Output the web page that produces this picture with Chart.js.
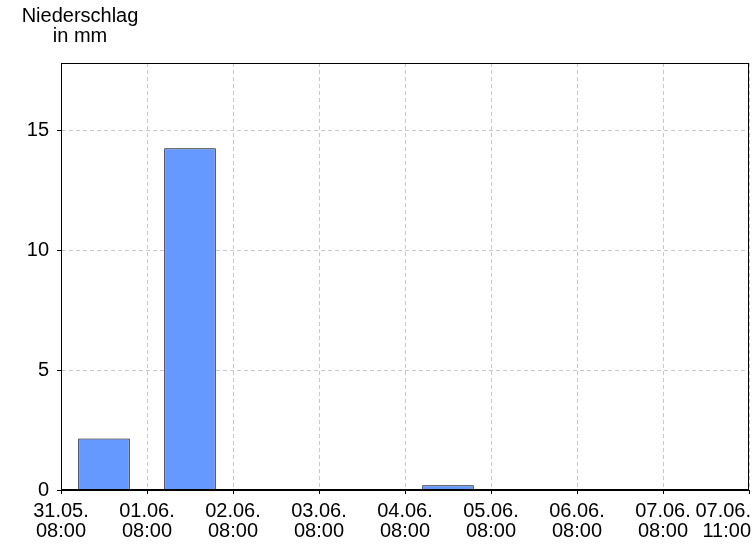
<!DOCTYPE html>
<html>
<head>
<meta charset="utf-8">
<script src="https://cdn.jsdelivr.net/npm/chart.js@4"></script>
<style>
  html, body { margin: 0; padding: 0; background: #fff; }
  #wrap { position: relative; width: 756px; height: 546px; }
  #title { position: absolute; left: 0; top: 5px; width: 160px; text-align: center;
           font: 20px "Liberation Sans", Arial, sans-serif; line-height: 20px; color: #000; }
</style>
</head>
<body>
<div id="wrap">
  <canvas id="c" width="756" height="546"></canvas>
  <div id="title">Niederschlag<br>in mm</div>
</div>
<script>
// Daily precipitation periods (each from 08:00 to 08:00 next day)
const days = ['31.05.', '01.06.', '02.06.', '03.06.', '04.06.', '05.06.', '06.06.', '07.06.'];
const precip = [2.15, 14.25, 0, 0, 0.2, 0, 0, 0];
// X axis tick labels (at period boundaries)
const tickLabels = [
  ['31.05.', '08:00'], ['01.06.', '08:00'], ['02.06.', '08:00'], ['03.06.', '08:00'],
  ['04.06.', '08:00'], ['05.06.', '08:00'], ['06.06.', '08:00'], ['07.06.', '08:00'],
  ['07.06.', '11:00']
];
const yTicks = [0, 5, 10, 15];
const yMax = 17.8;

const FONT = { family: '"Liberation Sans", Arial, sans-serif', size: 20, lineHeight: 1 };
const TICK_LEN = 4, X_PAD = 7, Y_PAD = 8;

const framePlugin = {
  id: 'frame',
  afterDraw(chart) {
    const { ctx, chartArea: a } = chart;
    ctx.save();
    ctx.strokeStyle = '#000';
    ctx.lineWidth = 1;
    ctx.strokeRect(Math.round(a.left) + 0.5, Math.round(a.top) + 0.5,
                   Math.round(a.right - a.left) - 1, Math.round(a.bottom - a.top) - 1);
    // last x label, right-aligned to the last tick
    const xs = chart.scales.x;
    const last = tickLabels[tickLabels.length - 1];
    const px = xs.getPixelForValue(tickLabels.length - 1);
    ctx.fillStyle = '#000';
    ctx.font = FONT.size + 'px ' + FONT.family;
    ctx.textAlign = 'right';
    ctx.textBaseline = 'middle';
    last.forEach((line, i) => {
      ctx.fillText(line, px + 2, xs.top + TICK_LEN + X_PAD + FONT.size / 2 + i * FONT.size);
    });
    ctx.restore();
  }
};

new Chart(document.getElementById('c'), {
  type: 'bar',
  data: {
    datasets: [{
      label: 'Niederschlag',
      data: days.map((d, i) => ({ x: i + 0.5, y: precip[i] })),
      backgroundColor: '#6699ff',
      borderColor: '#000',
      borderWidth: 1,
      borderSkipped: 'start',
      barPercentage: 0.6,
      categoryPercentage: 1.0
    }]
  },
  options: {
    responsive: false,
    animation: false,
    layout: { padding: { top: 63, right: 5, left: 0, bottom: 0 } },
    plugins: { legend: { display: false }, tooltip: { enabled: false }, title: { display: false } },
    scales: {
      x: {
        type: 'linear',
        min: 0,
        max: tickLabels.length - 1,
        offset: false,
        afterBuildTicks(s) { s.ticks = tickLabels.map((_, i) => ({ value: i })); },
        afterFit(s) { s.height = 56; },
        ticks: {
          autoSkip: false, maxRotation: 0, minRotation: 0,
          padding: X_PAD, color: '#000', font: FONT,
          callback: (v, i) => (i === tickLabels.length - 1 ? '' : tickLabels[i])
        },
        grid: { offset: false, color: '#c8c8c8', tickColor: '#000', tickLength: TICK_LEN, drawTicks: true, lineWidth: 1 },
        border: { display: true, color: '#000', width: 1, dash: [4, 3] }
      },
      y: {
        min: 0,
        max: yMax,
        afterBuildTicks(s) { s.ticks = yTicks.map(v => ({ value: v })); },
        afterFit(s) { s.width = 61; },
        ticks: { padding: Y_PAD, color: '#000', font: FONT },
        grid: { color: '#c8c8c8', tickColor: '#000', tickLength: TICK_LEN, drawTicks: true, lineWidth: 1 },
        border: { display: true, color: '#000', width: 1, dash: [4, 3] }
      }
    }
  },
  plugins: [framePlugin]
});
</script>
</body>
</html>
